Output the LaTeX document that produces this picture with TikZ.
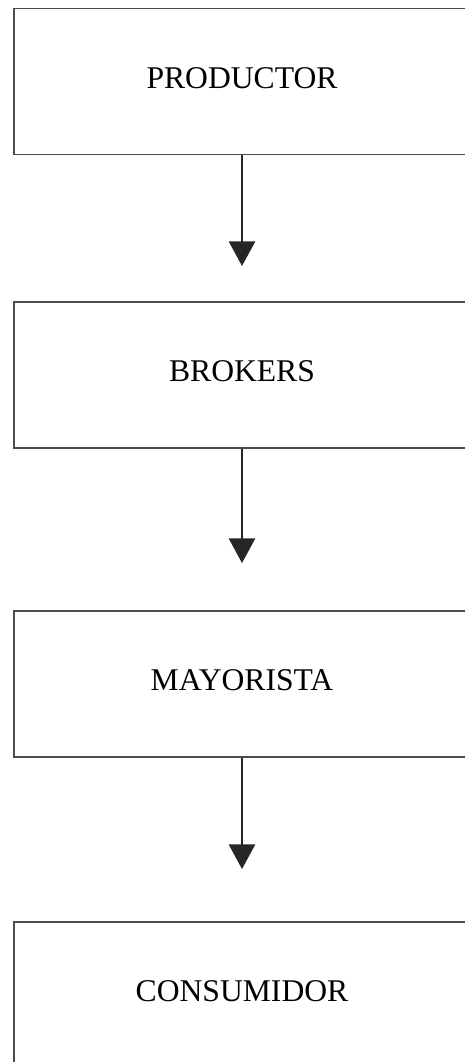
\documentclass[tikz,border=0pt]{standalone}
\usepackage{fontspec}
\setmainfont{Liberation Serif}
\usetikzlibrary{arrows.meta}

\begin{document}
\begin{tikzpicture}[x=0.02cm,y=-0.02cm,line width=0.8pt,>={Triangle[width=15pt,length=14pt]},caja/.style={draw=black!70,minimum width=9.12cm,minimum height=2.92cm,inner sep=0pt,text depth=4.5pt,font=\fontsize{18}{20}\selectfont},flecha/.style={->,color=black!85}]
\useasboundingbox (0,0) rectangle (465,1062);
\clip (0,0) rectangle (465,1062);
\node[caja] (prod) at (242,81.5) {PRODUCTOR};
\node[caja] (brok) at (242,375) {BROKERS};
\node[caja] (mayo) at (242,684) {MAYORISTA};
\node[caja] (cons) at (242,995) {CONSUMIDOR};
\coordinate (t1) at (242,266);
\coordinate (t2) at (242,563);
\coordinate (t3) at (242,869);
\draw[flecha] (prod) -- (t1);
\draw[flecha] (brok) -- (t2);
\draw[flecha] (mayo) -- (t3);
\end{tikzpicture}
\end{document}
